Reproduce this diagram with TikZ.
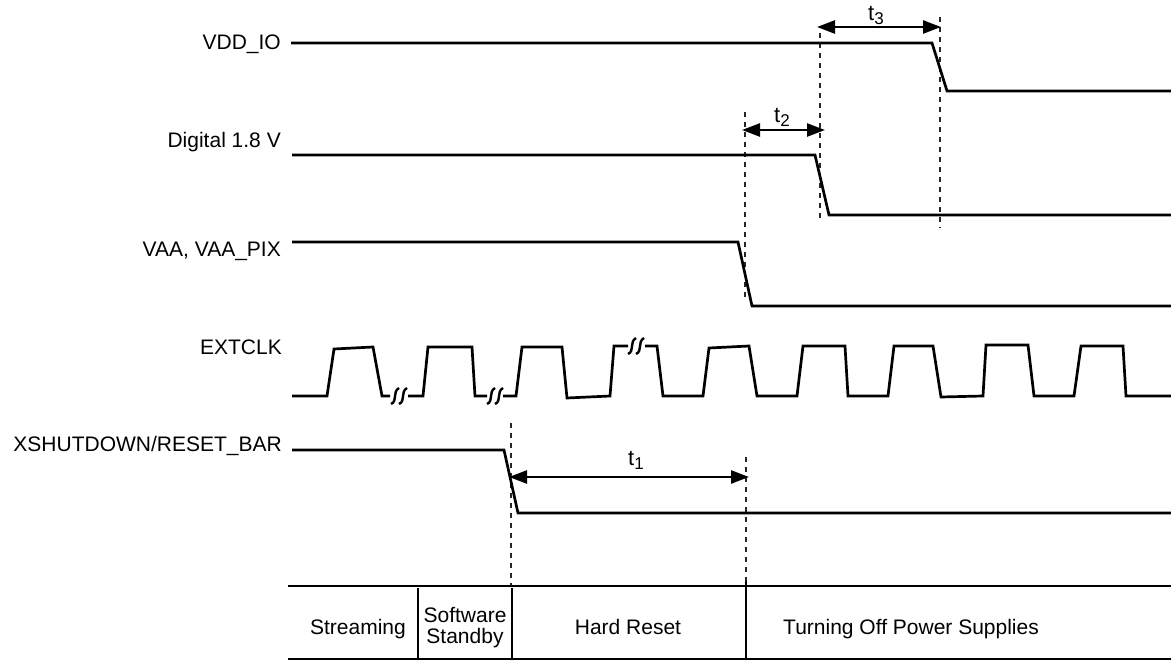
\documentclass[tikz,border=0pt]{standalone}
\usepackage{fontspec}
\setmainfont{Liberation Sans}
\usetikzlibrary{arrows.meta}
\begin{document}
\begin{tikzpicture}[x=1pt,y=-1pt,
  sig/.style={line width=2.7pt,line join=miter},
  guide/.style={line width=1.3pt,dash pattern=on 5pt off 5pt,black!85},
  dim/.style={line width=2.5pt,{Triangle[length=18pt,width=13pt]}-{Triangle[length=18pt,width=13pt]}},
  lbl/.style={anchor=base east,inner sep=0pt,font=\fontsize{21}{21}\selectfont},
  tl/.style={anchor=base west,inner sep=0pt,font=\fontsize{22}{22}\selectfont},
  cell/.style={anchor=base,inner sep=0pt,font=\fontsize{21}{21}\selectfont,align=center}]
\useasboundingbox (0,0) rectangle (1171,660);
\newcommand\mysquig[2]{%
  \draw[line width=2.4pt] (#1-8,#2+8) .. controls (#1-1,#2+5) and (#1-7,#2-4) .. (#1,#2-8);
  \draw[line width=2.4pt] (#1,#2+8) .. controls (#1+7,#2+5) and (#1+1,#2-4) .. (#1+8,#2-8);}
% labels
\node[lbl] (lvdd) at (281,50) {VDD\_IO};
\node[lbl] (ldig) at (281,148) {Digital 1.8 V};
\node[lbl] (lvaa) at (281,257) {VAA, VAA\_PIX};
\node[lbl] (lclk) at (282,355) {EXTCLK};
\node[lbl] (lrst) at (282,452) {XSHUTDOWN/RESET\_BAR};
% guide coordinates
\coordinate (g3a) at (820,33);  \coordinate (g3b) at (820,218);
\coordinate (g3c) at (940,17);  \coordinate (g3d) at (940,228);
\coordinate (g2a) at (745,112); \coordinate (g2b) at (745,298);
\coordinate (g1a) at (511,423); \coordinate (g1b) at (511,586);
\coordinate (g4a) at (746,457); \coordinate (g4b) at (746,582);
\draw[guide] (g3a) -- (g3b);
\draw[guide] (g3c) -- (g3d);
\draw[guide] (g2a) -- (g2b);
\draw[guide] (g1a) -- (g1b);
\draw[guide] (g4a) -- (g4b);
% signals
\draw[sig] (291,43) -- (932,43) -- (947,91) -- (1171,91);
\draw[sig] (292,155) -- (815,155) -- (829,215) -- (1171,215);
\draw[sig] (292,242) -- (738,242) -- (752,306) -- (1171,306);
\draw[sig] (292,450) -- (504,450) -- (518,513) -- (1171,513);
% clock
\draw[sig] (292,396) -- (327,396) -- (334,349) -- (373,347) -- (382,396) -- (390,396);
\mysquig{399}{396}
\draw[sig] (408,396) -- (423,396) -- (428,347) -- (472,347) -- (475,396) -- (487,396);
\mysquig{495}{396}
\draw[sig] (503,396) -- (516,396) -- (522,347) -- (562,347) -- (567,398) -- (610,396) -- (614,346) -- (628,346);
\mysquig{636}{346}
\draw[sig] (645,346) -- (657,346) -- (663,396) -- (703,396) -- (709,348) -- (749,346) -- (757,396) -- (797,396) -- (803,346) -- (845,346) -- (848,396) -- (888,396) -- (894,346) -- (933,346) -- (941,397) -- (983,396) -- (986,345) -- (1028,345) -- (1034,396) -- (1074,396) -- (1081,346) -- (1123,346) -- (1126,396) -- (1171,396);
% dimension arrows
\coordinate (a3l) at (817,27);  \coordinate (a3r) at (941,27);
\coordinate (a2l) at (742,130); \coordinate (a2r) at (825,130);
\coordinate (a1l) at (509,477); \coordinate (a1r) at (749,477);
\draw[dim] (a3l) -- (a3r);
\draw[dim] (a2l) -- (a2r);
\draw[dim] (a1l) -- (a1r);
\node[tl] (t3) at (868,21) {t\raisebox{-4pt}{\fontsize{17}{17}\selectfont 3}};
\node[tl] (t2) at (774,123) {t\raisebox{-4pt}{\fontsize{17}{17}\selectfont 2}};
\node[tl] (t1) at (628,465) {t\raisebox{-4pt}{\fontsize{17}{17}\selectfont 1}};
% table
\draw[sig] (288,586) -- (1171,586);
\draw[sig] (288,659) -- (1171,659);
\draw[sig] (418,588) -- (418,660);
\draw[sig] (512,588) -- (512,660);
\draw[sig] (746,581) -- (746,660);
\node[cell] (c1) at (358,634) {Streaming};
\node[cell] (c2) at (465,622) {Software};
\node[cell] (c2b) at (465,643) {Standby};
\node[cell] (c3) at (628,634) {Hard Reset};
\node[anchor=base west,inner sep=0pt,font=\fontsize{21}{21}\selectfont] (c4) at (783,634) {Turning Off Power Supplies};
\end{tikzpicture}
\end{document}
